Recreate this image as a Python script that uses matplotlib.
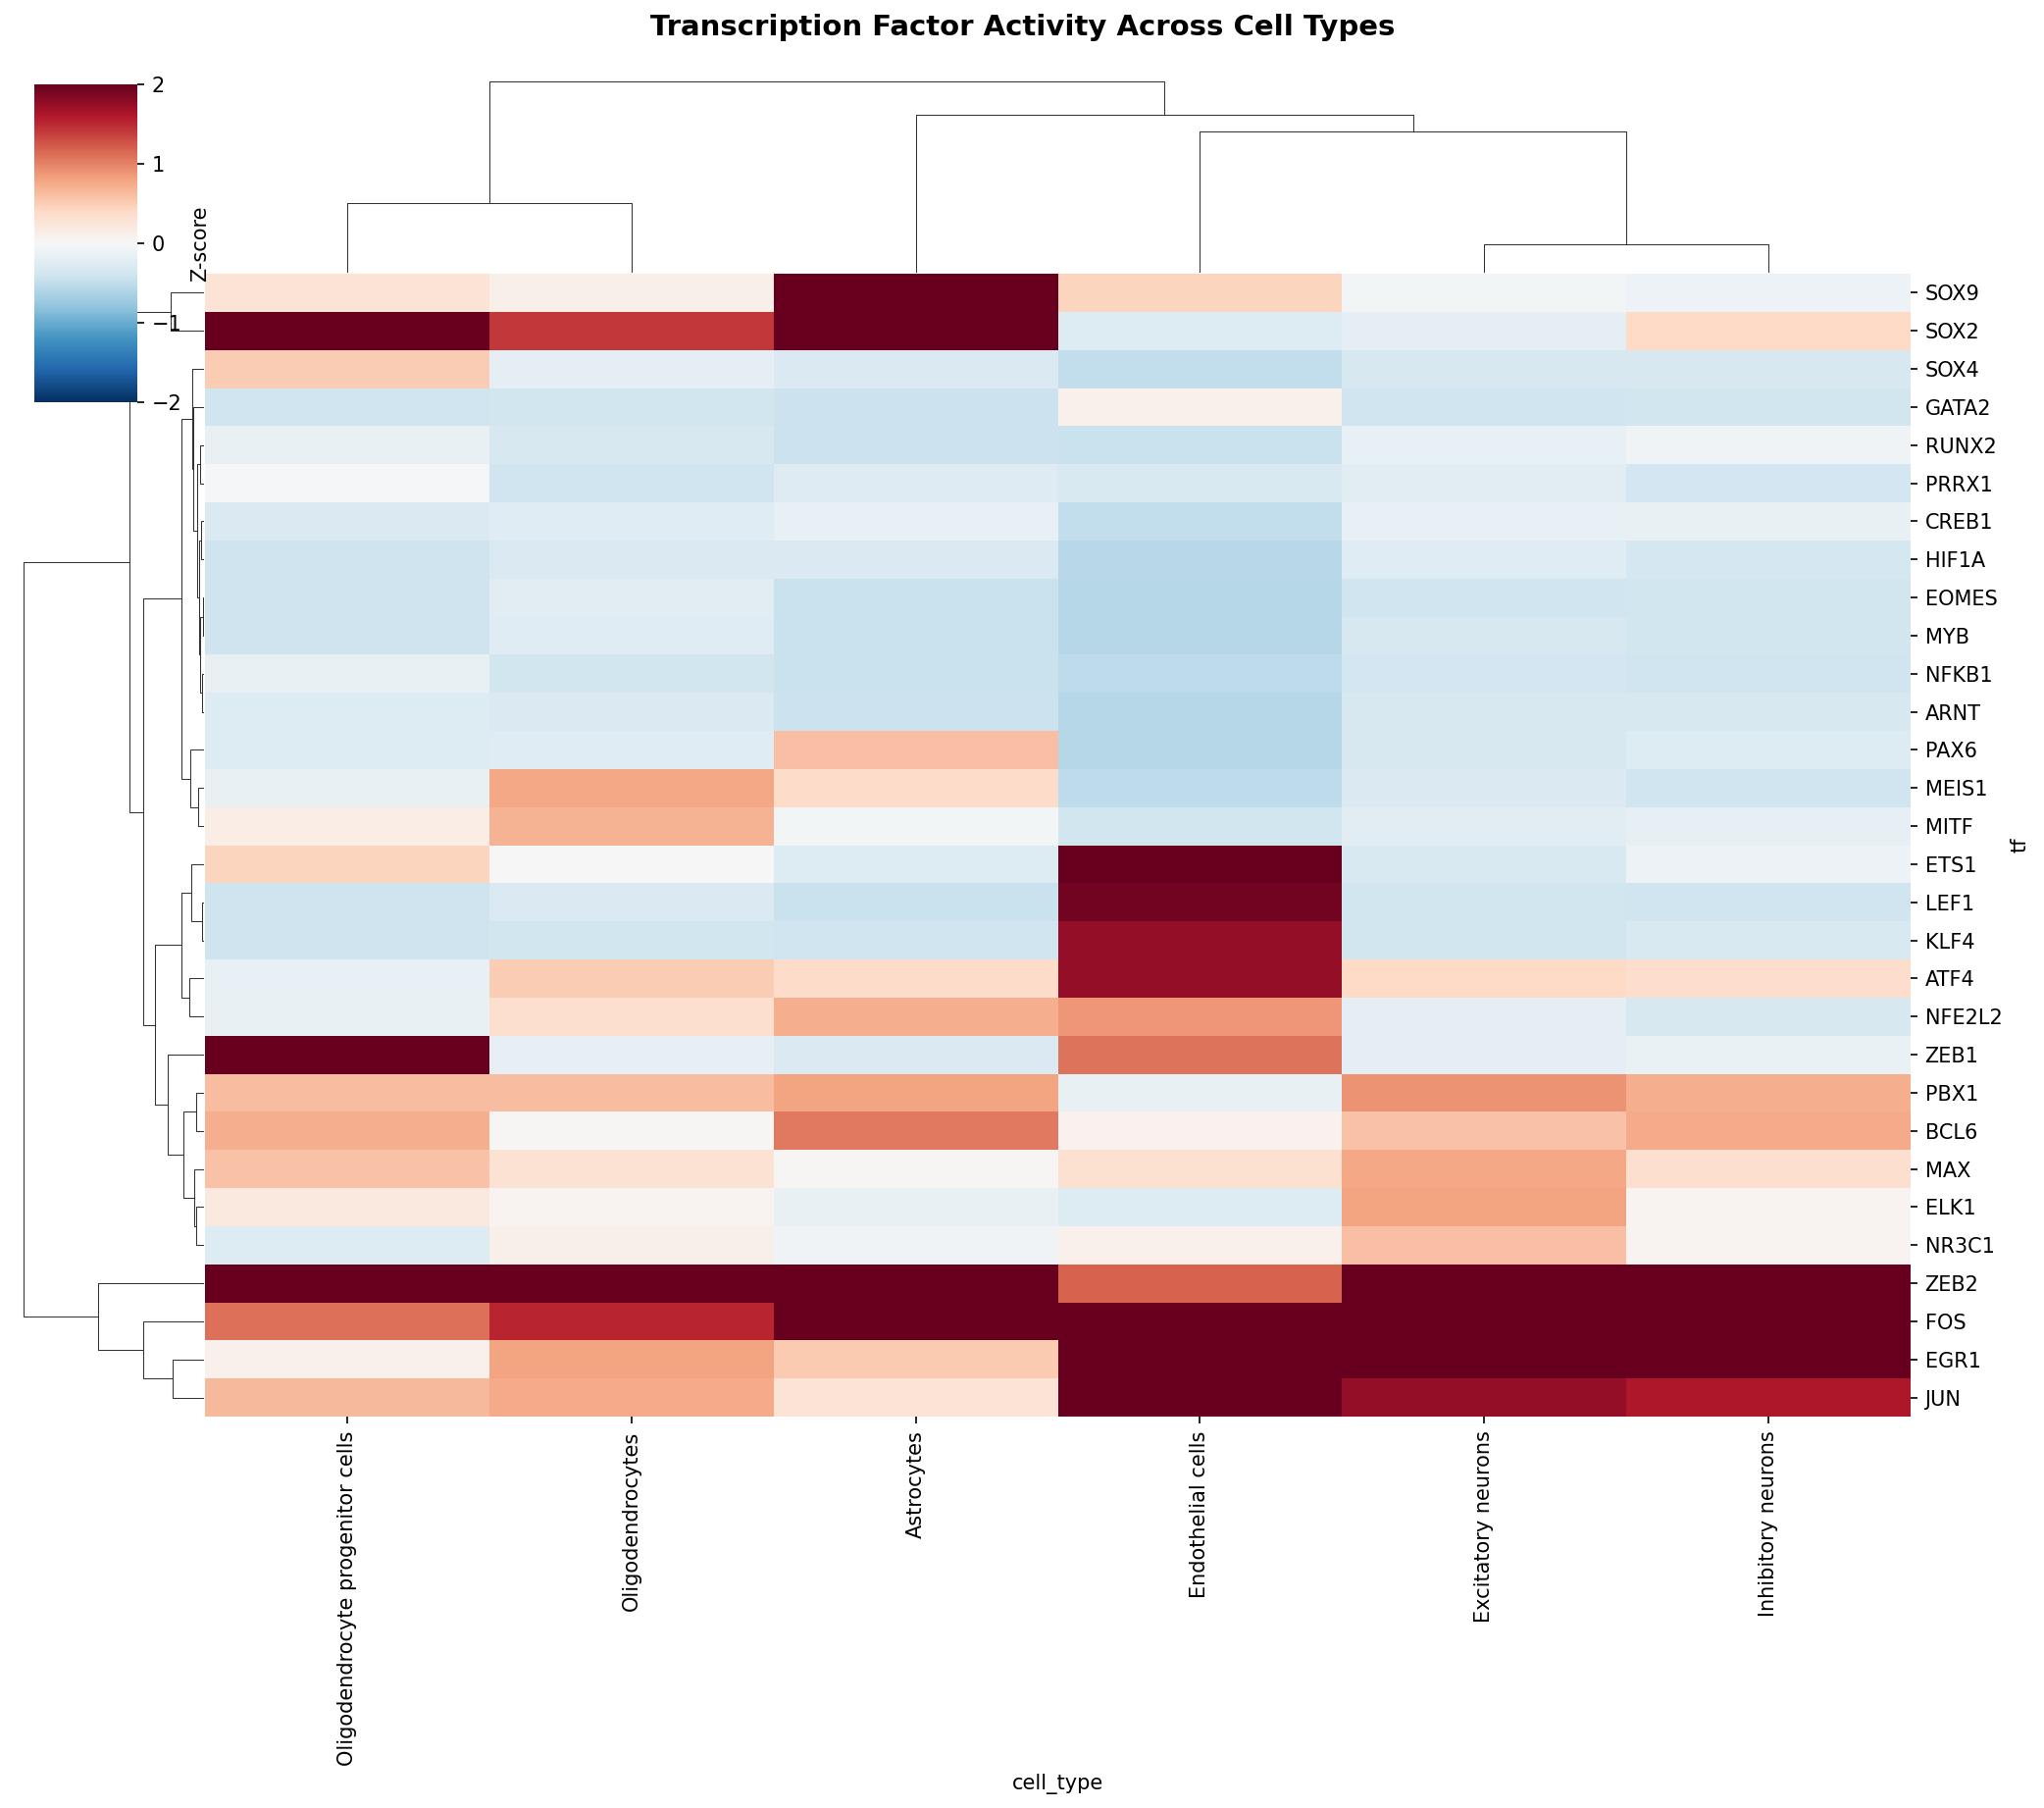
import numpy as np
import matplotlib
matplotlib.use('Agg')
import matplotlib.pyplot as plt
from matplotlib.collections import LineCollection

cell_types = ['Oligodendrocyte progenitor cells', 'Oligodendrocytes', 'Astrocytes',
              'Endothelial cells', 'Excitatory neurons', 'Inhibitory neurons']
tfs = ['SOX9', 'SOX2', 'SOX4', 'GATA2', 'RUNX2', 'PRRX1', 'CREB1', 'HIF1A', 'EOMES', 'MYB',
       'NFKB1', 'ARNT', 'PAX6', 'MEIS1', 'MITF', 'ETS1', 'LEF1', 'KLF4', 'ATF4', 'NFE2L2',
       'ZEB1', 'PBX1', 'BCL6', 'MAX', 'ELK1', 'NR3C1', 'ZEB2', 'FOS', 'EGR1', 'JUN']

opc = [0.27, 2.00, 0.50, -0.40, -0.15, -0.02, -0.30, -0.42, -0.42, -0.42,
       -0.15, -0.28, -0.28, -0.15, 0.15, 0.45, -0.41, -0.42, -0.16, -0.15,
       2.00, 0.62, 0.73, 0.58, 0.20, -0.27, 2.00, 1.10, 0.10, 0.65]
oligo = [0.12, 1.42, -0.20, -0.38, -0.33, -0.40, -0.25, -0.31, -0.22, -0.25,
         -0.39, -0.31, -0.25, 0.78, 0.70, 0.00, -0.31, -0.38, 0.50, 0.33,
         -0.18, 0.62, 0.02, 0.30, 0.06, 0.12, 2.00, 1.52, 0.80, 0.75]
astro = [2.00, 2.00, -0.29, -0.43, -0.43, -0.26, -0.17, -0.30, -0.44, -0.44,
         -0.44, -0.43, 0.60, 0.38, -0.05, -0.27, -0.44, -0.40, 0.38, 0.72,
         -0.29, 0.80, 1.05, 0.02, -0.15, -0.08, 2.00, 2.00, 0.52, 0.28]
endo = [0.45, -0.27, -0.50, 0.10, -0.45, -0.32, -0.50, -0.56, -0.57, -0.57,
        -0.53, -0.57, -0.57, -0.53, -0.39, 2.00, 1.93, 1.76, 1.76, 0.88,
        1.08, -0.15, 0.08, 0.32, -0.27, 0.10, 1.18, 2.00, 2.00, 2.00]
exc = [-0.05, -0.20, -0.33, -0.40, -0.17, -0.22, -0.17, -0.25, -0.40, -0.33,
       -0.37, -0.34, -0.34, -0.31, -0.22, -0.32, -0.39, -0.39, 0.40, -0.20,
       -0.19, 0.90, 0.58, 0.78, 0.80, 0.60, 2.00, 2.00, 2.00, 1.76]
inh = [-0.12, 0.40, -0.33, -0.38, -0.08, -0.36, -0.15, -0.35, -0.39, -0.39,
       -0.40, -0.33, -0.27, -0.40, -0.18, -0.11, -0.40, -0.32, 0.36, -0.33,
       -0.14, 0.72, 0.76, 0.34, 0.05, 0.05, 2.00, 2.00, 2.00, 1.62]

# (node, left child, right child, merge height)
col_merges = [('c1', 0, 1, 70.7), ('c2', 4, 5, 28.7), ('c3', 3, 'c2', 143.7),
              ('c4', 2, 'c3', 160.7), ('c5', 'c1', 'c4', 195.4)]
row_merges = [('r1', 0, 1, 33.7), ('r2', 4, 5, 3.7), ('r3', 6, 7, 2.7), ('r4', 8, 9, 0.5),
              ('r5', 10, 11, 1.7), ('r6', 'r4', 'r5', 3.7), ('r7', 'r3', 'r6', 4.7),
              ('r8', 'r2', 'r7', 6.7), ('r9', 3, 'r8', 10.7), ('r10', 2, 'r9', 11.7),
              ('r11', 13, 14, 5.7), ('r12', 12, 'r11', 13.7), ('r13', 'r10', 'r12', 22.7),
              ('r14', 16, 17, 1.7), ('r15', 15, 'r14', 12.7), ('r16', 18, 19, 14.7),
              ('r17', 'r15', 'r16', 22.7), ('r18', 21, 22, 7.7), ('r19', 24, 25, 7.7),
              ('r20', 23, 'r19', 9.7), ('r21', 'r18', 'r20', 20.7), ('r22', 20, 'r21', 36.7),
              ('r23', 'r17', 'r22', 49.7), ('r24', 'r13', 'r23', 61.7), ('r25', 'r1', 'r24', 75.7),
              ('r26', 28, 29, 31.7), ('r27', 27, 'r26', 61.7), ('r28', 26, 'r27', 107.7),
              ('r29', 'r25', 'r28', 183.7)]

W, H = 2084, 1843
HEAT_TOP, HEAT_BOTTOM = 279, 1444


def px_axes(fig, x0, y0, x1, y1):
    return fig.add_axes([x0 / W, 1 - y1 / H, (x1 - x0) / W, (y1 - y0) / H])


def tree_segments(merges, n_leaves):
    # leaves sit at the middle of their cell
    pos = {i: i + 0.5 for i in range(n_leaves)}
    height = {i: 0 for i in range(n_leaves)}
    segs = []
    for name, a, b, h in merges:
        segs.append([(pos[a], height[a]), (pos[a], h), (pos[b], h), (pos[b], height[b])])
        pos[name] = (pos[a] + pos[b]) / 2
        height[name] = h
    return segs


data = np.array([opc, oligo, astro, endo, exc, inh]).T

fig = plt.figure(figsize=(W / 150, H / 150), dpi=150)

ax_col = px_axes(fig, 209, 73, 1948, 278)
segs = tree_segments(col_merges, len(cell_types))
ax_col.add_collection(LineCollection(segs, linewidths=0.5, colors='.2'))
ax_col.set_xlim(0, len(cell_types))
ax_col.set_ylim(0, max(m[3] for m in col_merges) * 1.05)
ax_col.axis('off')

ax_row = px_axes(fig, 15, HEAT_TOP, 208, HEAT_BOTTOM)
segs = [[(h, p) for p, h in s] for s in tree_segments(row_merges, len(tfs))]
ax_row.add_collection(LineCollection(segs, linewidths=0.5, colors='.2'))
ax_row.set_ylim(len(tfs), 0)
ax_row.set_xlim(max(m[3] for m in row_merges) * 1.05, 0)
ax_row.axis('off')

ax = px_axes(fig, 209, HEAT_TOP, 1948, HEAT_BOTTOM)
mesh = ax.pcolormesh(data, cmap='RdBu_r', vmin=-2, vmax=2)
ax.invert_yaxis()
ax.set_xticks(np.arange(len(cell_types)) + 0.5)
ax.set_xticklabels(cell_types, rotation=90)
ax.set_yticks(np.arange(len(tfs)) + 0.5)
ax.set_yticklabels(tfs, rotation=0)
ax.yaxis.tick_right()
ax.yaxis.set_label_position('right')
ax.set_xlabel('cell_type')
ax.set_ylabel('tf')
for s in ax.spines.values():
    s.set_visible(False)

cax = px_axes(fig, 35, 86, 140, 410)
cbar = fig.colorbar(mesh, cax=cax)
cbar.set_ticks([-2, -1, 0, 1, 2])
cbar.outline.set_visible(False)
cbar.set_label('Z-score')

fig.text(1043 / W, 1 - 28 / H, 'Transcription Factor Activity Across Cell Types',
         ha='center', va='center', fontsize=14, fontweight='bold')

fig.savefig('out.png', dpi=150)
